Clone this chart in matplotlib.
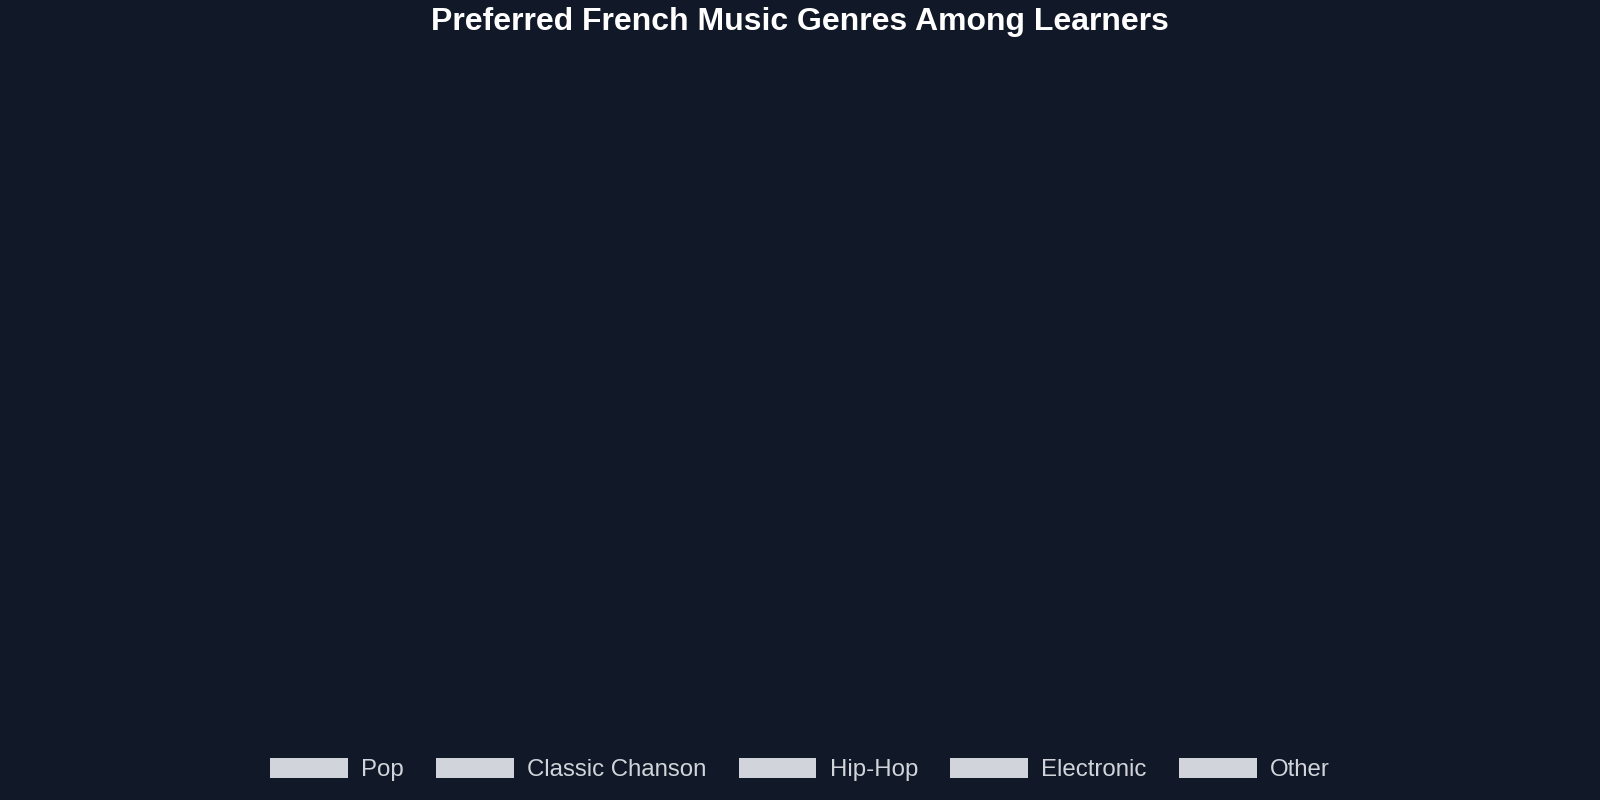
"""Preferred French music genres among learners: the chart as rendered (legend only, no wedges)."""

import matplotlib

matplotlib.use("Agg")
import matplotlib.pyplot as plt
from matplotlib.patches import Patch

GENRES = ["Pop", "Classic Chanson", "Hip-Hop", "Electronic", "Other"]
TITLE = "Preferred French Music Genres Among Learners"

BG = "#111827"
SWATCH = "#d1d5db"
TEXT = "#d1d5db"

plt.rcParams["font.family"] = ["Liberation Sans", "DejaVu Sans"]


def main() -> int:
    fig = plt.figure(figsize=(16, 8), dpi=100, facecolor=BG)
    ax = fig.add_axes([0.0, 0.1, 1.0, 0.82])
    ax.set_facecolor(BG)
    ax.axis("off")

    fig.text(0.5, 0.972, TITLE, ha="center", va="center",
             fontsize=23, fontweight="bold", color="white")

    handles = [Patch(facecolor=SWATCH, edgecolor="none", label=g) for g in GENRES]
    fig.legend(
        handles=handles,
        loc="center",
        bbox_to_anchor=(0.5, 0.0377),
        ncol=len(GENRES),
        frameon=False,
        fontsize=17.3,
        labelcolor=TEXT,
        handlelength=3.23,
        handleheight=0.85,
        handletextpad=0.55,
        columnspacing=1.35,
        borderpad=0.0,
    )

    fig.savefig("out.png", dpi=100, facecolor=BG)
    plt.close(fig)
    return 0


if __name__ == "__main__":
    raise SystemExit(main())
